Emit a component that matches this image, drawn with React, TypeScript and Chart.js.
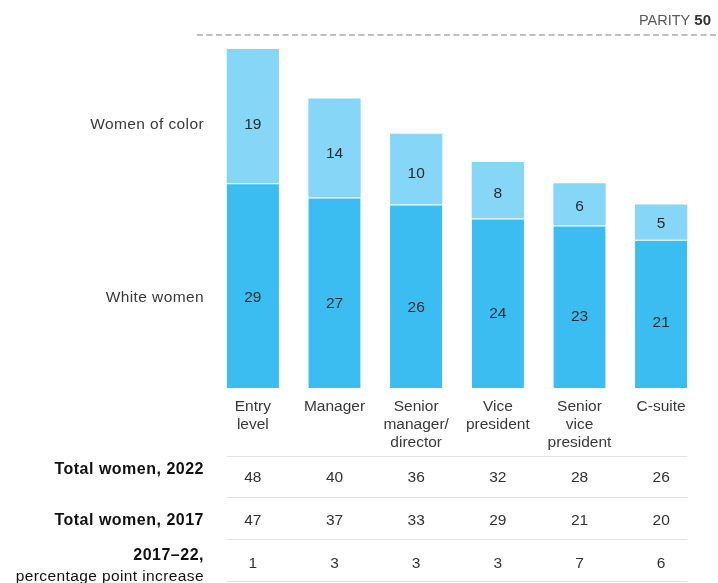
import React, { useEffect, useRef } from "react";
import { Chart, registerables } from "chart.js";

Chart.register(...registerables);

// Career levels along the pipeline
const categories: string[][] = [
  ["Entry", "level"],
  ["Manager"],
  ["Senior", "manager/", "director"],
  ["Vice", "president"],
  ["Senior", "vice", "president"],
  ["C-suite"],
];

// Share of each level, %
const whiteWomen = [29, 27, 26, 24, 23, 21];
const womenOfColor = [19, 14, 10, 8, 6, 5];

// Table rows under the bars
const total2022 = [48, 40, 36, 32, 28, 26];
const total2017 = [47, 37, 33, 29, 21, 20];
const increase = [1, 3, 3, 3, 7, 6];

const parity = 50;

const FONT = "'Liberation Sans', Arial, Helvetica, sans-serif";
const COLOR_WHITE_WOMEN = "#3cbdf2";
const COLOR_WOMEN_OF_COLOR = "#86d6f8";

const overlayPlugin = {
  id: "overlay",
  afterDatasetsDraw(chart: any) {
    const { ctx, chartArea, scales } = chart;
    const x = scales.x;
    const y = scales.y;
    const metaBottom = chart.getDatasetMeta(0);
    const metaTop = chart.getDatasetMeta(1);

    ctx.save();

    // Parity line
    const py = y.getPixelForValue(parity);
    ctx.strokeStyle = "#aaaaaa";
    ctx.lineWidth = 1.5;
    ctx.setLineDash([6, 3.5]);
    ctx.beginPath();
    ctx.moveTo(197, py);
    ctx.lineTo(chart.width, py);
    ctx.stroke();
    ctx.setLineDash([]);

    ctx.textBaseline = "middle";
    ctx.textAlign = "right";
    ctx.font = `bold 15px ${FONT}`;
    const boldW = ctx.measureText("50").width;
    ctx.fillStyle = "#333";
    ctx.fillText("50", 711, py - 14);
    ctx.font = `14.5px ${FONT}`;
    ctx.fillStyle = "#5a5a5a";
    ctx.fillText("PARITY ", 711 - boldW, py - 14);

    // Values inside the segments
    ctx.textAlign = "center";
    ctx.font = `15.5px ${FONT}`;
    ctx.fillStyle = "#1f2a30";
    const segY = (bar: any) => {
      const top = Math.min(bar.y, bar.base);
      return top + Math.abs(bar.base - bar.y) * 0.56;
    };
    const drawVals = (meta: any, values: number[]) => {
      meta.data.forEach((bar: any, i: number) => {
        ctx.fillText(String(values[i]), bar.x, segY(bar));
      });
    };
    drawVals(metaBottom, whiteWomen);
    drawVals(metaTop, womenOfColor);

    // Series labels on the left, level with the first column's values
    const first0 = metaBottom.data[0];
    const first1 = metaTop.data[0];
    const labelX = 204;
    ctx.textAlign = "right";
    ctx.fillStyle = "#3a3a3a";
    ctx.font = `15.5px ${FONT}`;
    ctx.letterSpacing = "0.4px";
    ctx.fillText("Women of color", labelX, segY(first1));
    ctx.fillText("White women", labelX, segY(first0));
    ctx.letterSpacing = "0px";

    // Category labels
    ctx.textAlign = "center";
    ctx.fillStyle = "#3a3a3a";
    categories.forEach((lines, i) => {
      const cx = x.getPixelForValue(i);
      lines.forEach((line, j) => {
        ctx.fillText(line, cx, chartArea.bottom + 19 + j * 18);
      });
    });

    // Table
    const half = first0.width / 2;
    const lineL = metaBottom.data[0].x - half;
    const last = metaBottom.data[metaBottom.data.length - 1];
    const lineR = last.x + half;
    const rules = [456, 497, 539, 581];
    ctx.strokeStyle = "#e2e2e2";
    ctx.lineWidth = 1;
    rules.forEach((ry) => {
      ctx.beginPath();
      ctx.moveTo(lineL, ry + 0.5);
      ctx.lineTo(lineR, ry + 0.5);
      ctx.stroke();
    });

    const rows = [total2022, total2017, increase];
    const rowY = [478, 521, 564];
    ctx.fillStyle = "#333";
    ctx.font = `15.5px ${FONT}`;
    rows.forEach((vals, r) => {
      vals.forEach((v, i) => {
        ctx.fillText(String(v), x.getPixelForValue(i), rowY[r]);
      });
    });

    ctx.textAlign = "right";
    ctx.fillStyle = "#111";
    ctx.font = `bold 16px ${FONT}`;
    ctx.letterSpacing = "0.5px";
    ctx.fillText("Total women, 2022", labelX, 470);
    ctx.fillText("Total women, 2017", labelX, 521);
    ctx.fillText("2017–22,", labelX, 556);
    ctx.font = `15.5px ${FONT}`;
    ctx.letterSpacing = "0.4px";
    ctx.fillText("percentage point increase", labelX, 577);
    ctx.letterSpacing = "0px";

    ctx.restore();
  },
};

export default function App() {
  const ref = useRef<HTMLCanvasElement>(null);

  useEffect(() => {
    document.body.style.margin = "0";
    const canvas = ref.current;
    if (!canvas) return;
    const chart = new Chart(canvas, {
      type: "bar",
      data: {
        labels: categories.map((c) => c.join(" ")),
        datasets: [
          {
            label: "White women",
            data: whiteWomen,
            backgroundColor: COLOR_WHITE_WOMEN,
            borderColor: "#ffffff",
            borderWidth: { top: 1, left: 0, right: 0, bottom: 0 },
            borderSkipped: false,
            barPercentage: 0.64,
            categoryPercentage: 1,
          },
          {
            label: "Women of color",
            data: womenOfColor,
            backgroundColor: COLOR_WOMEN_OF_COLOR,
            borderWidth: 0,
            barPercentage: 0.64,
            categoryPercentage: 1,
          },
        ],
      },
      options: {
        animation: false,
        responsive: false,
        maintainAspectRatio: false,
        layout: { padding: { left: 212, right: 16, top: 35, bottom: 195 } },
        plugins: {
          legend: { display: false },
          tooltip: { enabled: false },
        },
        scales: {
          x: { stacked: true, display: false },
          y: { stacked: true, display: false, min: 0, max: parity },
        },
      },
      plugins: [overlayPlugin],
    });
    return () => chart.destroy();
  }, []);

  return (
    <div style={{ width: 718, height: 583, background: "#fff" }}>
      <canvas ref={ref} width={718} height={583} />
    </div>
  );
}
